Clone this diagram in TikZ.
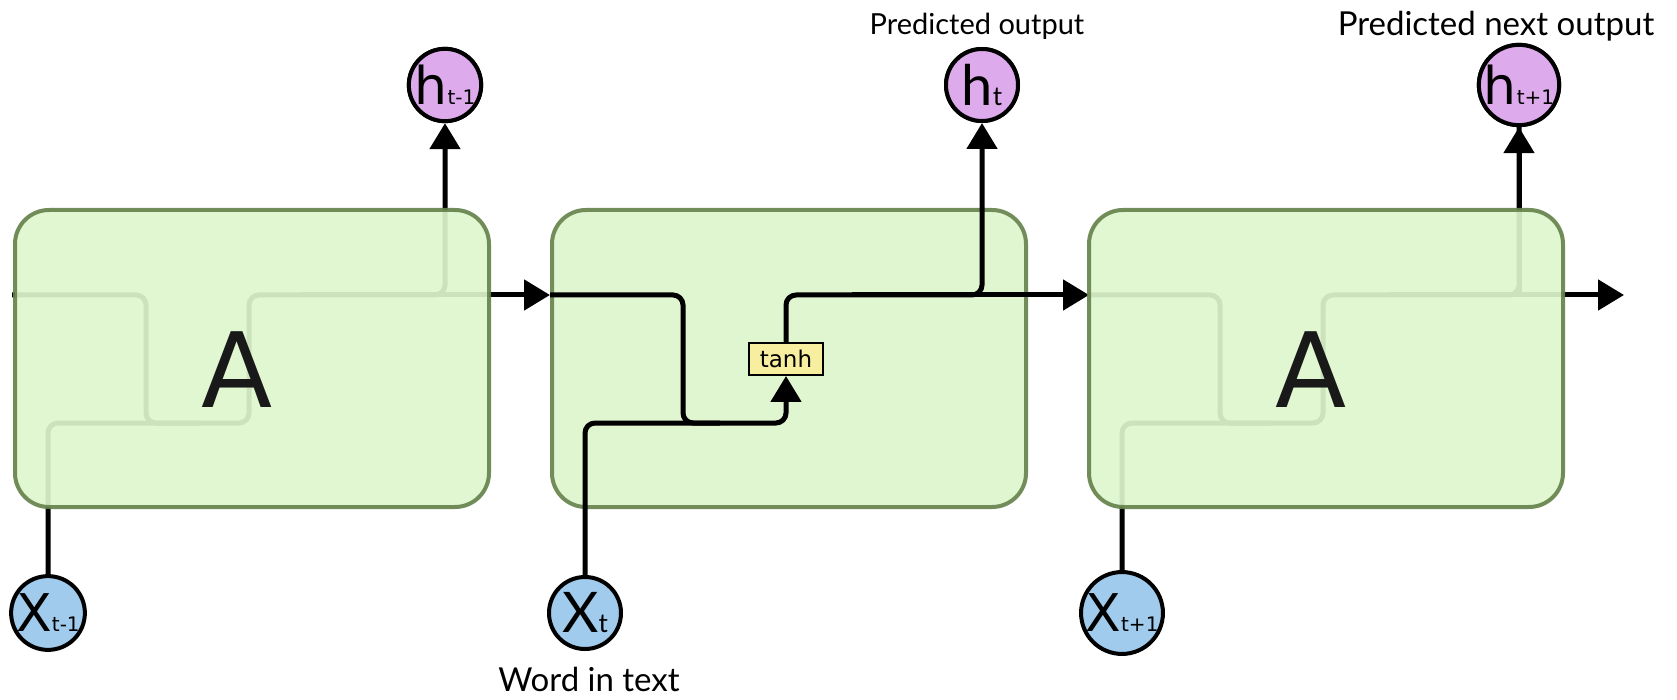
\documentclass[tikz,border=0pt]{standalone}
\usepackage{fontspec}
\setmainfont{DejaVu Sans}
\newfontfamily\capfont{Lato}
\usetikzlibrary{arrows.meta}

\definecolor{cellfill}{RGB}{224,246,208}
\definecolor{celledge}{RGB}{114,140,90}
\definecolor{ghostfill}{RGB}{222,246,206}
\definecolor{ghostedge}{RGB}{102,130,76}
\definecolor{hfill}{RGB}{221,170,236}
\definecolor{xfill}{RGB}{160,203,236}
\definecolor{tanhfill}{RGB}{248,238,160}

\newcommand{\statelab}[2]{{\fontsize{26}{26}\selectfont #1}{\fontsize{10}{10}\selectfont #2}}
\newcommand{\midlab}[2]{{\capfont\fontsize{28}{28}\selectfont #1}{\capfont\fontsize{13}{13}\selectfont #2}}

\begin{document}
\begin{tikzpicture}[x=0.5pt,y=-0.5pt,
  cell/.style={draw=celledge, fill=cellfill, line width=2pt, rounded corners=17pt,
    minimum width=237pt, minimum height=148.5pt, inner sep=0pt},
  ghost/.style={cell, draw=ghostedge, fill=ghostfill, opacity=0.92},
  wire/.style={line width=2.5pt, rounded corners=5pt},
  tip/.style={-{Triangle[length=13pt,width=15pt]}},
  hnode/.style={circle, draw, line width=2pt, fill=hfill, minimum size=36pt, inner sep=0pt},
  xnode/.style={circle, draw, line width=2pt, fill=xfill, minimum size=36pt, inner sep=0pt},
  gate/.style={draw, line width=1pt, fill=tanhfill, minimum width=37pt, minimum height=16pt,
    inner sep=0pt, font=\fontsize{11.5}{12}\selectfont},
  letter/.style={inner sep=0pt, text=black!90, font=\fontsize{52}{52}\selectfont},
  caption/.style={inner sep=0pt, font=\capfont\fontsize{14.5}{16}\selectfont}]
\useasboundingbox (0,0) rectangle (1677,700);

% middle cell (opaque)
\node[cell] (cell2) at (789,358.5) {};
\node[gate] (tanh2) at (786,359) {tanh};

% states
\node[hnode] (h1) at (445,85) {\statelab{h}{t-1}};
\node[hnode] (h2) at (982,85) {\midlab{h}{t}};
\node[hnode] (h3) at (1519,85) {\statelab{h}{t+1}};
\node[xnode] (x1) at (48,613) {\statelab{X}{t-1}};
\node[xnode] (x2) at (585,613) {\midlab{X}{t}};
\node[xnode] (x3) at (1122,613) {\statelab{X}{t+1}};

\coordinate (start1) at (12,295);
\coordinate (out1) at (300,295);
\coordinate (out2) at (852,295);
\coordinate (out3) at (1389,295);
\coordinate (end3) at (1624,295);

% wires of cell 1 (seen through the box)
\draw[wire,tip] (start1) -- (146,295) -- (146,423) -- (249,423) -- (249,295)
  -- (h1.south |- start1) -- (h1.south);
\draw[wire] (x1.north) |- (200,423);
\draw[wire,tip] (out1) -- (out1 -| cell2.west);

% wires of cell 2
\draw[wire,tip] (out1 -| cell2.west) -- (683,295) -- (683,423) -- (tanh2.south |- 0,423)
  -- (tanh2.south);
\draw[wire] (x2.north) |- (720,423);
\draw[wire,tip] (tanh2.north) |- (h2.south |- out2) -- (h2.south);
\draw[wire,tip] (out2) -- (1089,295);

% wires of cell 3 (seen through the box)
\draw[wire] (1089,295) -- (1220,295) -- (1220,423) -- (1323,423) -- (1323,295)
  -- (h3.south |- out3) -- (h3.south);
\draw[wire,tip] (h3.south |- out3) -- (h3.south);
\draw[wire] (x3.north) |- (1270,423);
\draw[wire,tip] (out3) -- (end3);

% outer cells
\node[ghost] (cell1) at (252,358.5) {};
\node[ghost] (cell3) at (1326,358.5) {};
\node[letter] (letter1) at (237,370) {A};
\node[letter] (letter3) at (1311,370) {A};

% circles on top
\node[hnode] at (h1) {\statelab{h}{t-1}};
\node[hnode] at (h2) {\midlab{h}{t}};
\node[hnode] at (h3) {\statelab{h}{t+1}};

% captions
\node[caption] (caph2) at (977,26) {Predicted output};
\node[caption, font=\capfont\fontsize{16.5}{18}\selectfont] (caph3) at (1496,26) {Predicted next output};
\node[caption, font=\capfont\fontsize{16.5}{18}\selectfont] (capx2) at (589,679) {Word in text};
\end{tikzpicture}
\end{document}
